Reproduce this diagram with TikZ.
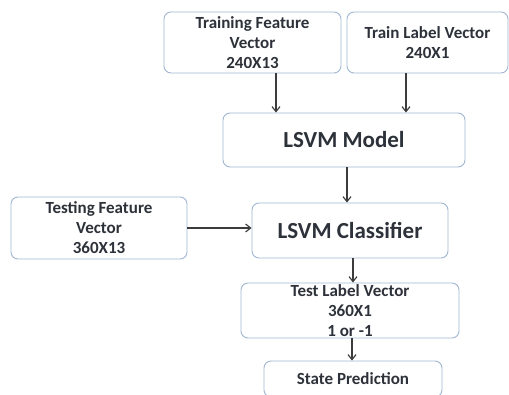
\documentclass[tikz,border=0pt]{standalone}
\usepackage{fontspec}
\setmainfont{Carlito}
\usepackage{tikz}
\usetikzlibrary{arrows.meta,positioning}
\definecolor{boxline}{RGB}{160,182,210}
\definecolor{inktext}{RGB}{45,50,58}
\definecolor{arrowgray}{RGB}{60,60,60}

\begin{document}
\begin{tikzpicture}[x=1pt, y=-1pt,
  blk/.style={rectangle, rounded corners=7pt, draw=boxline, line width=0.9pt,
    fill=white, text=inktext, align=center, inner sep=0pt,
    font=\fontsize{17}{20}\selectfont\bfseries},
  bigblk/.style={blk, font=\fontsize{23}{26}\selectfont\bfseries},
  flow/.style={-{Straight Barb[length=5pt,width=8pt]}, line width=1.2pt, arrowgray}
]
\useasboundingbox (0,0) rectangle (509,394);
\node[blk, minimum width=177pt, minimum height=61pt] (trainfeat)
  at (252.5, 42.5) {Training Feature\\Vector\\240X13};
\node[blk, minimum width=161pt, minimum height=61pt] (trainlab)
  at (427.5, 42.5) {Train Label Vector\\240X1};
\node[bigblk, minimum width=242pt, minimum height=54pt] (model)
  at (344, 140) {LSVM Model};
\node[blk, minimum width=176pt, minimum height=62pt] (testfeat)
  at (99, 228) {Testing Feature\\Vector\\360X13};
\node[bigblk, minimum width=196pt, minimum height=55pt] (clf)
  at (350, 230.5) {LSVM Classifier};
\node[blk, minimum width=218pt, minimum height=55pt] (testlab)
  at (350, 310.5) {\raisebox{5pt}{\parbox{200pt}{\centering Test Label Vector\\360X1\\1 or -1}}};
\node[blk, minimum width=178pt, minimum height=36pt] (state)
  at (353, 379) {State Prediction};
\draw[flow] (trainfeat.south -| 276,0) -- (model.north -| 276,0);
\draw[flow] (trainlab.south -| 406,0) -- (model.north -| 406,0);
\draw[flow] (model.south -| 347,0) -- (clf.north -| 347,0);
\draw[flow] (testfeat.east) -- (clf.west |- testfeat.east);
\draw[flow] (clf.south -| 353,0) -- (testlab.north -| 353,0);
\draw[flow] (testlab.south -| 352,0) -- (state.north -| 352,0);
\end{tikzpicture}
\end{document}
